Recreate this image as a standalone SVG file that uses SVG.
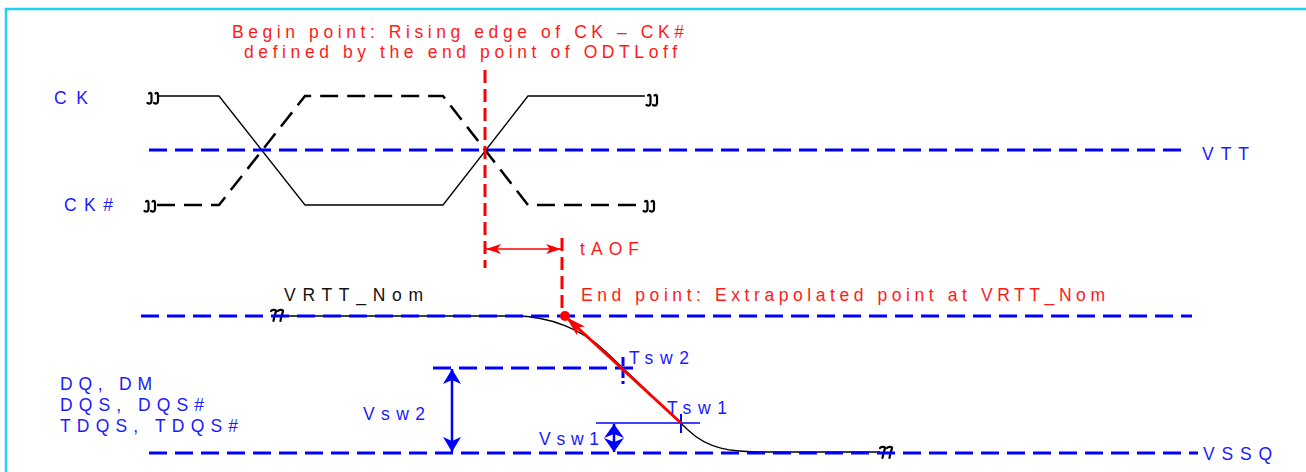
<svg xmlns="http://www.w3.org/2000/svg" width="1306" height="472" viewBox="0 0 1306 472">
<style>
.t{font-family:"Liberation Sans",Arial,sans-serif;font-size:17.5px}
.blue{fill:#1a1aff}
.red{fill:#ff1a1a}
.blk{fill:#111}
.bd{stroke:#0000ff;stroke-width:3;stroke-dasharray:18 8;fill:none}
.kd{stroke:#000;stroke-width:2.5;stroke-dasharray:18 9;fill:none}
.ks{stroke:#000;stroke-width:1.3;fill:none}
.rd{stroke:#ff0000;stroke-width:3;stroke-dasharray:13 6;fill:none}
.brk{stroke:#000;stroke-width:2.2;fill:none;stroke-linecap:round}
</style>
<defs>
<path id="sbrk" class="brk" d="M3,1.5 C4.5,0 5.5,1 5.5,3 L5.5,9 C5.5,11 4,12.5 1.5,11 M9.5,1.5 C11,0 12,1 12,3 L12,9 C12,11 10.5,12.5 8,11"/>
<path id="zbrk" class="brk" d="M1,2 C2,0.5 5,0.5 6,1.5 C6,4 4,7 3.5,12 M8,2 C9,0.5 12,0.5 13,1.5 C13,4 11,7 10.5,12"/>
<marker id="ar" viewBox="0 0 20 12" refX="19" refY="6" markerWidth="20" markerHeight="12" markerUnits="userSpaceOnUse" orient="auto-start-reverse"><path d="M0,0 L20,6 L0,12 L5,6 Z" fill="#ff0000"/></marker>
<marker id="ars" viewBox="0 0 15 10" refX="15" refY="5" markerWidth="15" markerHeight="10" markerUnits="userSpaceOnUse" orient="auto-start-reverse"><path d="M0,0 L15,5 L0,10 L4,5 Z" fill="#ff0000"/></marker>
<marker id="ab" viewBox="0 0 15 18" refX="15" refY="9" markerWidth="15" markerHeight="18" markerUnits="userSpaceOnUse" orient="auto-start-reverse"><path d="M0,0 L15,9 L0,18 L4,9 Z" fill="#0000ff"/></marker>
<marker id="ab2" viewBox="0 0 14 20" refX="14" refY="10" markerWidth="14" markerHeight="20" markerUnits="userSpaceOnUse" orient="auto"><path d="M0,0 L14,10 L0,20 L4,10 Z" fill="#0000ff"/></marker>
</defs>
<path d="M6,480 V9 H1310" fill="none" stroke="#1fd0f0" stroke-width="2.5"/>

<g id="title">
<text class="t red" x="232" y="38" textLength="452" lengthAdjust="spacing">Begin point: Rising edge of CK – CK#</text>
<text class="t red" x="244" y="58" textLength="433" lengthAdjust="spacing">defined by the end point of ODTLoff</text>
</g>

<g id="ck">
<text class="t blue" x="54" y="104" textLength="34" lengthAdjust="spacing">CK</text>
<use href="#sbrk" x="146" y="92"/>
<path class="ks" d="M158,96 H219 L305,205 H443 L528,96 H645"/>
<use href="#sbrk" x="645" y="94"/>
</g>

<g id="ckn">
<text class="t blue" x="64" y="211" textLength="49" lengthAdjust="spacing">CK#</text>
<use href="#sbrk" x="143" y="200"/>
<path class="kd" d="M157,205 H219 L305,96 H443 L528,205 H642"/>
<use href="#sbrk" x="642" y="200"/>
</g>

<g id="vtt">
<line class="bd" x1="149" y1="150" x2="1182" y2="150"/>
<text class="t blue" x="1202" y="160" textLength="47" lengthAdjust="spacing">VTT</text>
</g>

<g id="vrtt">
<text class="t blk" x="284" y="301" textLength="139" lengthAdjust="spacing">VRTT_Nom</text>
</g>

<g id="dq-signal">
<path class="ks" d="M284,316 H515 C550,316 583,330 605,351 L688,430 C708,449 730,452 765,452 H880"/>
<use href="#zbrk" x="270" y="309"/>
<use href="#zbrk" x="879" y="446"/>
</g>

<g id="vrtt-line">
<line class="bd" x1="141" y1="316" x2="1192" y2="316"/>
</g>

<g id="vssq">
<line class="bd" x1="149" y1="453" x2="1198" y2="453"/>
<text class="t blue" x="1203" y="460" textLength="69" lengthAdjust="spacing">VSSQ</text>
</g>

<g id="dq-labels">
<text class="t blue" x="60" y="390" textLength="92" lengthAdjust="spacing">DQ, DM</text>
<text class="t blue" x="60" y="411" textLength="144" lengthAdjust="spacing">DQS, DQS#</text>
<text class="t blue" x="60" y="432" textLength="178" lengthAdjust="spacing">TDQS, TDQS#</text>
</g>

<g id="tsw2">
<line class="bd" x1="433" y1="368" x2="633" y2="368"/>
<line x1="623" y1="357" x2="623" y2="384" stroke="#0000ff" stroke-width="3" stroke-dasharray="9 3"/>
<text class="t blue" x="629" y="364" textLength="60" lengthAdjust="spacing">Tsw2</text>
</g>

<g id="tsw1">
<line x1="596" y1="423" x2="700" y2="423" stroke="#0000ff" stroke-width="1.5"/>
<line x1="681" y1="414" x2="681" y2="433" stroke="#0000ff" stroke-width="2"/>
<text class="t blue" x="667" y="414" textLength="60" lengthAdjust="spacing">Tsw1</text>
</g>

<g id="vsw-labels">
<text class="t blue" x="363" y="420" textLength="62" lengthAdjust="spacing">Vsw2</text>
<text class="t blue" x="539" y="445" textLength="60" lengthAdjust="spacing">Vsw1</text>
</g>

<g id="taof">
<text class="t red" x="580" y="255" textLength="59" lengthAdjust="spacing">tAOF</text>
<text class="t red" x="581" y="301" textLength="524" lengthAdjust="spacing">End point: Extrapolated point at VRTT_Nom</text>
</g>

<g id="connectors">
<line class="rd" x1="485" y1="70" x2="485" y2="268"/>
<line class="rd" x1="562" y1="238" x2="562" y2="314"/>
<line x1="486" y1="249" x2="561" y2="249" stroke="#ff0000" stroke-width="1.5" marker-start="url(#ars)" marker-end="url(#ars)"/>
<line x1="681" y1="423" x2="567" y2="318" stroke="#ff0000" stroke-width="3" marker-end="url(#ar)"/>
<circle cx="565" cy="316" r="5" fill="#ff0000"/>
<line x1="452" y1="369" x2="452" y2="452" stroke="#0000ff" stroke-width="2.5" marker-start="url(#ab)" marker-end="url(#ab)"/>
<line x1="614" y1="438" x2="614" y2="424" stroke="#0000ff" stroke-width="2.5" marker-end="url(#ab2)"/>
<line x1="614" y1="438" x2="614" y2="452" stroke="#0000ff" stroke-width="2.5" marker-end="url(#ab2)"/>
</g>
</svg>
